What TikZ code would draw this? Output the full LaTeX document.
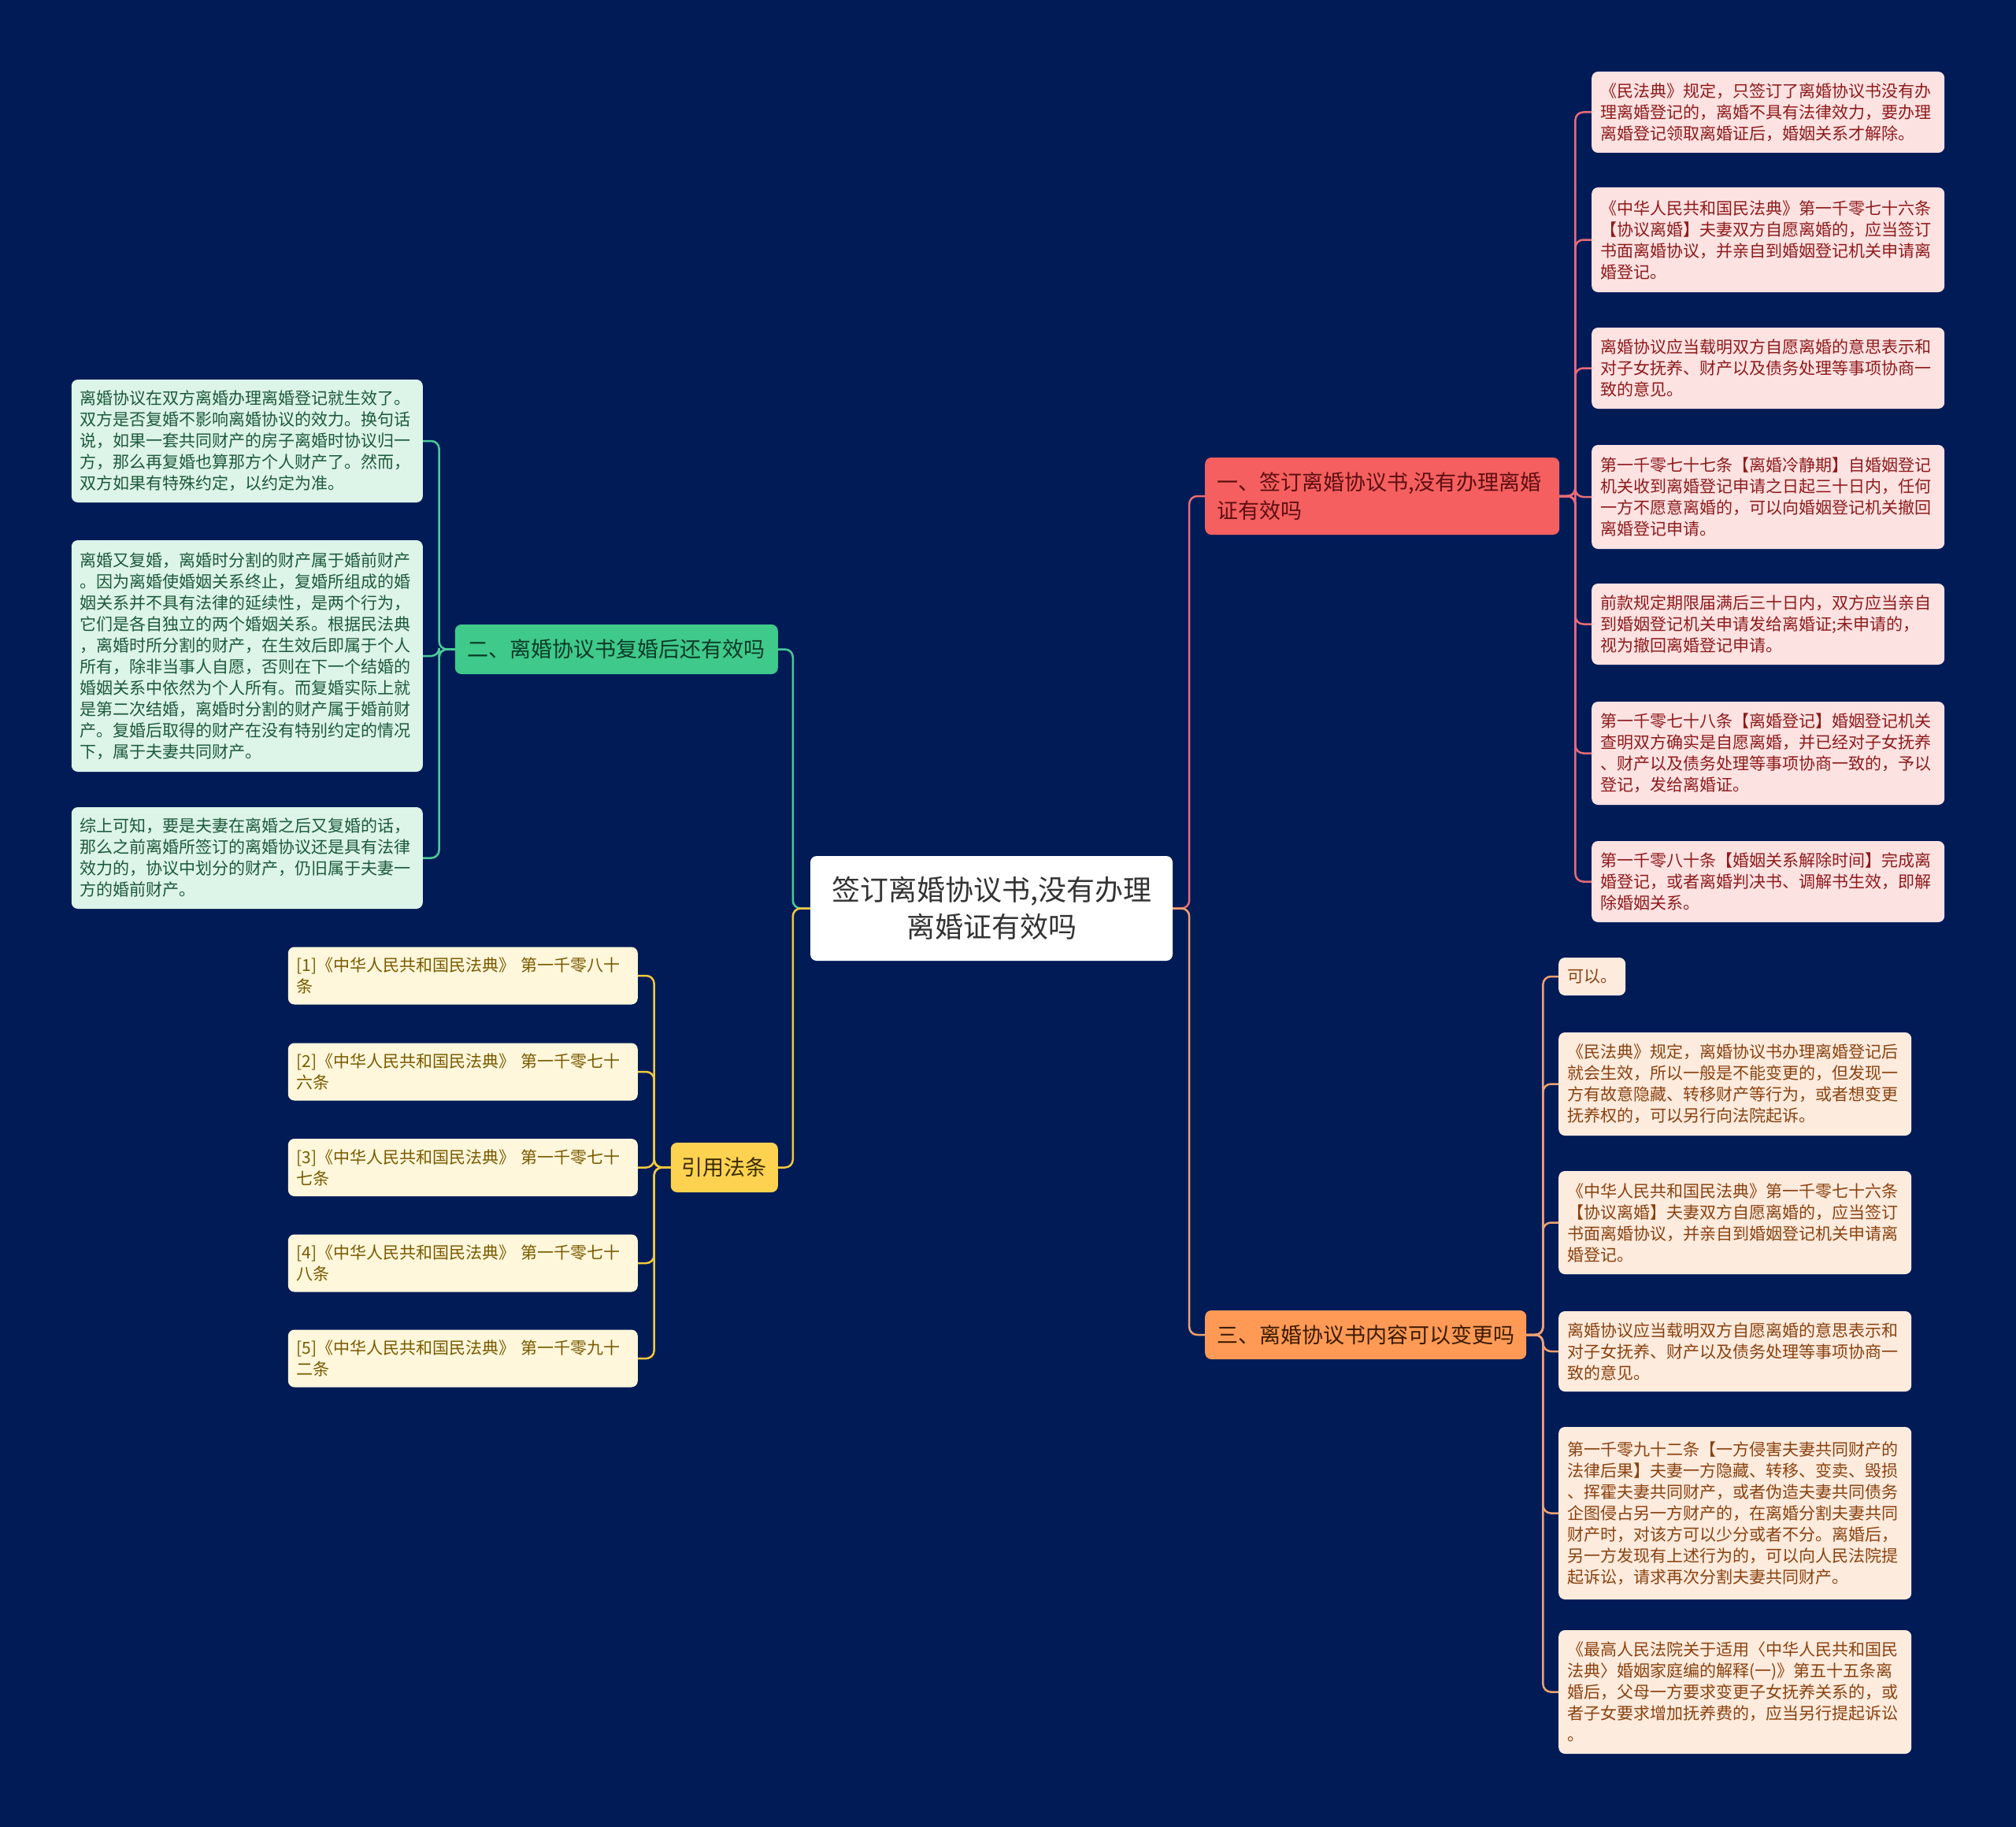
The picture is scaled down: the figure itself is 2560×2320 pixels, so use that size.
\documentclass[tikz,border=0pt]{standalone}
\usepackage{fontspec}
\newfontfamily\cjk{Noto Sans CJK SC}
\newcommand\leaffont{\cjk\fontsize{21}{27}\selectfont}
\newcommand\brfont{\cjk\fontsize{27}{36}\selectfont}
\newcommand\rootfont{\cjk\fontsize{36}{47}\selectfont}
\definecolor{bg}{HTML}{011B57}
\definecolor{redfill}{HTML}{F65F5F}
\definecolor{redtext}{HTML}{5C0F12}
\definecolor{redleaf}{HTML}{FDE2E2}
\definecolor{redleaftext}{HTML}{8E1B1B}
\definecolor{redline}{HTML}{E86C76}
\definecolor{greenfill}{HTML}{3FC98A}
\definecolor{greentext}{HTML}{0B3B27}
\definecolor{greenleaf}{HTML}{DDF4E8}
\definecolor{greenleaftext}{HTML}{1C5A3C}
\definecolor{greenline}{HTML}{4ACB98}
\definecolor{yelfill}{HTML}{FCD250}
\definecolor{yeltext}{HTML}{3B2B00}
\definecolor{yelleaf}{HTML}{FEF7DB}
\definecolor{yelleaftext}{HTML}{7A5A00}
\definecolor{yelline}{HTML}{F2C93C}
\definecolor{orfill}{HTML}{FE9A55}
\definecolor{ortext}{HTML}{3B1A00}
\definecolor{orleaf}{HTML}{FDEBDD}
\definecolor{orleaftext}{HTML}{8A4210}
\definecolor{orline}{HTML}{EFA172}
\tikzset{
  leafbox/.style={rounded corners=8pt, inner xsep=11pt, inner ysep=0pt, text width=426pt, align=left, font=\leaffont},
  rleaf/.style={leafbox, fill=redleaf, text=redleaftext, anchor=west},
  oleaf/.style={leafbox, fill=orleaf, text=orleaftext, anchor=west},
  gleaf/.style={leafbox, fill=greenleaf, text=greenleaftext, anchor=east, text width=424pt},
  yleaf/.style={leafbox, fill=yelleaf, text=yelleaftext, anchor=east, text width=422pt, minimum height=73pt},
  branch/.style={rounded corners=8pt, inner xsep=15pt, inner ysep=0pt, font=\brfont},
  conn/.style={line width=2.5pt, rounded corners=10pt},
}
\begin{document}
\begin{tikzpicture}[x=1pt,y=-1pt]
\fill[bg] (0,0) rectangle (2560,2320);
\useasboundingbox (0,0) rectangle (2560,2320);

% root
\node[rounded corners=8pt, fill=white, text=black!80, font=\rootfont, align=center, text width=430pt, inner xsep=15pt, minimum height=133pt] (root) at (1259,1153.5) {签订离婚协议书,没有办理\\离婚证有效吗};

% branches
\node[branch, fill=redfill, text=redtext, text width=420pt, align=left, minimum height=98pt, anchor=west] (b1) at (1530,630) {一、签订离婚协议书,没有办理离婚\\证有效吗};
\node[branch, fill=greenfill, text=greentext, minimum width=410pt, minimum height=63pt, anchor=east] (b2) at (988,824.5) {二、离婚协议书复婚后还有效吗};
\node[branch, fill=yelfill, text=yeltext, minimum width=136pt, minimum height=63pt, anchor=east, inner xsep=12pt] (b4) at (988,1482.5) {引用法条};
\node[branch, fill=orfill, text=ortext, minimum width=408pt, minimum height=62pt, anchor=west] (b3) at (1530,1695) {三、离婚协议书内容可以变更吗};

% red leaves
\node[rleaf, minimum height=103pt] (r1) at (2021,142.5) {《民法典》规定，只签订了离婚协议书没有办\\理离婚登记的，离婚不具有法律效力，要办理\\离婚登记领取离婚证后，婚姻关系才解除。};
\node[rleaf, minimum height=133pt] (r2) at (2021,304.5) {《中华人民共和国民法典》第一千零七十六条\\【协议离婚】夫妻双方自愿离婚的，应当签订\\书面离婚协议，并亲自到婚姻登记机关申请离\\婚登记。};
\node[rleaf, minimum height=103pt] (r3) at (2021,467.5) {离婚协议应当载明双方自愿离婚的意思表示和\\对子女抚养、财产以及债务处理等事项协商一\\致的意见。};
\node[rleaf, minimum height=132pt] (r4) at (2021,631) {第一千零七十七条【离婚冷静期】自婚姻登记\\机关收到离婚登记申请之日起三十日内，任何\\一方不愿意离婚的，可以向婚姻登记机关撤回\\离婚登记申请。};
\node[rleaf, minimum height=103pt] (r5) at (2021,792.5) {前款规定期限届满后三十日内，双方应当亲自\\到婚姻登记机关申请发给离婚证;未申请的，\\视为撤回离婚登记申请。};
\node[rleaf, minimum height=131pt] (r6) at (2021,956.5) {第一千零七十八条【离婚登记】婚姻登记机关\\查明双方确实是自愿离婚，并已经对子女抚养\\、财产以及债务处理等事项协商一致的，予以\\登记，发给离婚证。};
\node[rleaf, minimum height=103pt] (r7) at (2021,1119.5) {第一千零八十条【婚姻关系解除时间】完成离\\婚登记，或者离婚判决书、调解书生效，即解\\除婚姻关系。};

% green leaves
\node[gleaf, minimum height=156pt] (g1) at (537,560) {离婚协议在双方离婚办理离婚登记就生效了。\\双方是否复婚不影响离婚协议的效力。换句话\\说，如果一套共同财产的房子离婚时协议归一\\方，那么再复婚也算那方个人财产了。然而，\\双方如果有特殊约定，以约定为准。};
\node[gleaf, minimum height=294pt] (g2) at (537,833) {离婚又复婚，离婚时分割的财产属于婚前财产\\。因为离婚使婚姻关系终止，复婚所组成的婚\\姻关系并不具有法律的延续性，是两个行为，\\它们是各自独立的两个婚姻关系。根据民法典\\，离婚时所分割的财产，在生效后即属于个人\\所有，除非当事人自愿，否则在下一个结婚的\\婚姻关系中依然为个人所有。而复婚实际上就\\是第二次结婚，离婚时分割的财产属于婚前财\\产。复婚后取得的财产在没有特别约定的情况\\下，属于夫妻共同财产。};
\node[gleaf, minimum height=129pt] (g3) at (537,1089.5) {综上可知，要是夫妻在离婚之后又复婚的话，\\那么之前离婚所签订的离婚协议还是具有法律\\效力的，协议中划分的财产，仍旧属于夫妻一\\方的婚前财产。};

% yellow leaves
\node[yleaf] (y1) at (810,1239) {[1]《中华人民共和国民法典》 第一千零八十\\条};
\node[yleaf] (y2) at (810,1361) {[2]《中华人民共和国民法典》 第一千零七十\\六条};
\node[yleaf] (y3) at (810,1482.5) {[3]《中华人民共和国民法典》 第一千零七十\\七条};
\node[yleaf] (y4) at (810,1604) {[4]《中华人民共和国民法典》 第一千零七十\\八条};
\node[yleaf] (y5) at (810,1725) {[5]《中华人民共和国民法典》 第一千零九十\\二条};

% orange leaves
\node[rounded corners=8pt, inner xsep=11pt, inner ysep=0pt, font=\leaffont, fill=orleaf, text=orleaftext, anchor=west, minimum height=48pt] (o1) at (1979,1240) {可以。};
\node[oleaf, minimum height=131pt] (o2) at (1979,1376.5) {《民法典》规定，离婚协议书办理离婚登记后\\就会生效，所以一般是不能变更的，但发现一\\方有故意隐藏、转移财产等行为，或者想变更\\抚养权的，可以另行向法院起诉。};
\node[oleaf, minimum height=131pt] (o3) at (1979,1552.5) {《中华人民共和国民法典》第一千零七十六条\\【协议离婚】夫妻双方自愿离婚的，应当签订\\书面离婚协议，并亲自到婚姻登记机关申请离\\婚登记。};
\node[oleaf, minimum height=102pt] (o4) at (1979,1716) {离婚协议应当载明双方自愿离婚的意思表示和\\对子女抚养、财产以及债务处理等事项协商一\\致的意见。};
\node[oleaf, minimum height=219pt] (o5) at (1979,1921.5) {第一千零九十二条【一方侵害夫妻共同财产的\\法律后果】夫妻一方隐藏、转移、变卖、毁损\\、挥霍夫妻共同财产，或者伪造夫妻共同债务\\企图侵占另一方财产的，在离婚分割夫妻共同\\财产时，对该方可以少分或者不分。离婚后，\\另一方发现有上述行为的，可以向人民法院提\\起诉讼，请求再次分割夫妻共同财产。};
\node[oleaf, minimum height=157pt] (o6) at (1979,2148.5) {《最高人民法院关于适用〈中华人民共和国民\\法典〉婚姻家庭编的解释(一)》第五十五条离\\婚后，父母一方要求变更子女抚养关系的，或\\者子女要求增加抚养费的，应当另行提起诉讼\\。};

% connectors root -> branches
\draw[conn, redline] (root.east) -- ++(21,0) |- (b1.west);
\draw[conn, orline] (root.east) -- ++(21,0) |- (b3.west);
\draw[conn, greenline] (root.west) -- ++(-22,0) |- (b2.east);
\draw[conn, yelline] (root.west) -- ++(-22,0) |- (b4.east);

% branch -> leaves
\foreach \n in {r1,r2,r3,r4,r5,r6,r7}
  \draw[conn, redline] (b1.east) -- ++(20,0) |- (\n.west);
\foreach \n in {o1,o2,o3,o4,o5,o6}
  \draw[conn, orline] (b3.east) -- ++(21,0) |- (\n.west);
\foreach \n in {g1,g2,g3}
  \draw[conn, greenline] (b2.west) -- ++(-20,0) |- (\n.east);
\foreach \n in {y1,y2,y3,y4,y5}
  \draw[conn, yelline] (b4.west) -- ++(-21,0) |- (\n.east);
\end{tikzpicture}
\end{document}
